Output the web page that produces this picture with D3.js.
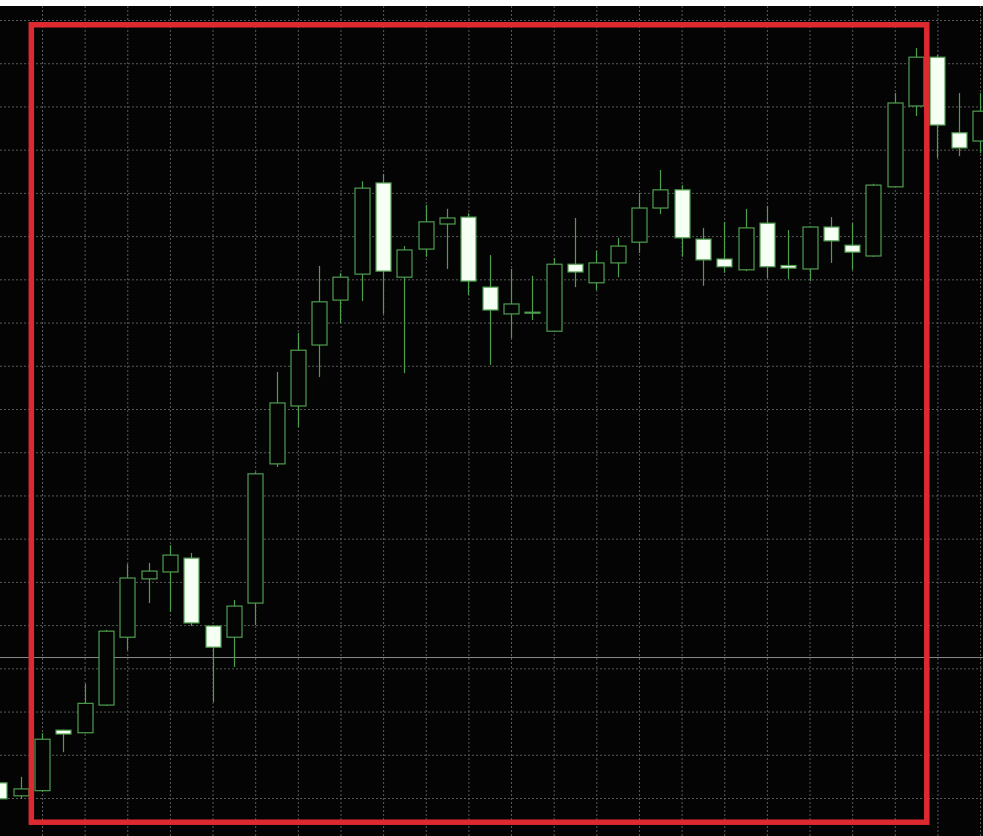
<!DOCTYPE html>
<html>
<head>
<meta charset="utf-8">
<script src="https://cdn.jsdelivr.net/npm/d3@7"></script>
<style>
  html, body { margin: 0; padding: 0; background: #ffffff; }
  svg { display: block; }
</style>
</head>
<body>
<svg id="chart" width="983" height="836"></svg>
<script>
// ---- data ----
const openVals  = [3.5, 0.5, 1.7, 15.7, 15.1, 21.5, 37.2, 50.7, 52.3, 55.5, 39.8, 37.2, 45.1, 77.3, 90.7, 104.8, 115.2, 121.2, 142.3, 120.5, 127.0, 132.8, 134.4, 118.2, 112.0, 112.4, 108.0, 123.5, 119.2, 123.8, 128.6, 136.5, 140.7, 129.3, 124.7, 122.2, 133.0, 123.2, 122.4, 132.1, 127.9, 125.4, 141.4, 160.1, 171.4, 153.9, 152.0];
const highVals  = [3.6, 4.9, 15.0, 15.8, 26.4, 38.9, 54.1, 54.4, 58.5, 56.7, 40.0, 45.8, 75.4, 98.6, 107.6, 123.1, 121.5, 142.7, 144.4, 127.7, 137.2, 136.3, 135.3, 125.6, 122.4, 120.8, 124.9, 134.2, 126.6, 129.6, 140.0, 145.3, 141.8, 131.9, 133.3, 136.3, 137.0, 131.4, 132.3, 134.4, 133.0, 142.1, 163.1, 173.5, 171.9, 163.1, 163.1];
const lowVals   = [-0.3, -0.2, 1.4, 10.6, 15.0, 21.3, 34.2, 45.1, 43.0, 39.8, 22.2, 30.3, 40.0, 76.6, 85.8, 97.4, 109.9, 115.0, 112.0, 98.3, 125.2, 122.4, 116.4, 100.2, 106.4, 110.6, 107.8, 118.2, 117.5, 120.5, 126.1, 135.1, 125.2, 118.5, 121.5, 121.9, 120.3, 120.1, 119.6, 123.8, 122.2, 125.2, 141.4, 157.8, 148.1, 148.5, 149.2];
const closeVals = [-0.2, 2.1, 13.6, 14.8, 21.9, 38.6, 50.9, 52.5, 56.2, 40.5, 34.9, 44.4, 75.0, 91.4, 103.6, 114.8, 120.5, 141.1, 121.9, 126.8, 133.3, 134.2, 119.6, 112.9, 114.3, 112.4, 123.5, 121.7, 123.8, 127.7, 136.5, 140.7, 129.6, 124.5, 122.9, 131.9, 122.9, 122.6, 132.1, 128.9, 126.3, 141.8, 160.8, 171.4, 155.7, 150.4, 158.9];
const firstBar = -2;            // first (partly hidden) bar index
const gridValues = [-10, 0, 10, 20, 30, 40, 50, 60, 70, 80, 90, 100, 110, 120, 130, 140, 150, 160, 170, 180];
const priceLine = 32.5;         // horizontal gray level line
const boxFrom = -0.5, boxTo = 41.5;   // red frame, bar index span
const boxLow = -5.6, boxHigh = 178.9; // red frame, value span

const W = 983, H = 836;
const svg = d3.select("#chart");

const candles = openVals.map((o, k) => ({
  i: firstBar + k, o, h: highVals[k], l: lowVals[k], c: closeVals[k]
}));

const x = d3.scaleLinear().domain([-2, 44]).range([-0.64, 980.08]);
const y = d3.scaleLinear().domain([0, 180]).range([798, 20]);

// background
svg.append("rect").attr("x", 0).attr("y", 0).attr("width", W).attr("height", H).attr("fill", "#ffffff");
svg.append("rect").attr("x", 0).attr("y", 6).attr("width", W).attr("height", H - 6).attr("fill", "#040404");

const plot = svg.append("g");

// grid
const gridX = d3.range(0, 46, 2);
const gx = plot.append("g")
  .attr("transform", `translate(0,${H})`)
  .call(d3.axisBottom(x).tickValues(gridX).tickSize(-(H - 6)).tickFormat(""));
const gy = plot.append("g")
  .call(d3.axisLeft(y).tickValues(gridValues).tickSize(-W).tickFormat(""));
[gx, gy].forEach(g => {
  g.select(".domain").remove();
  g.selectAll(".tick line")
    .attr("stroke", "#5a5a5a")
    .attr("stroke-width", 1)
    .attr("stroke-dasharray", "2,2");
});

// price line
plot.append("line")
  .attr("x1", 0).attr("x2", W)
  .attr("y1", y(priceLine)).attr("y2", y(priceLine))
  .attr("stroke", "#8a8a8a").attr("stroke-width", 1);

// candles
const green = "#4f9e4f";
const bw = 15;
const cg = plot.append("g").selectAll("g").data(candles).join("g");
cg.append("line")
  .attr("x1", d => Math.round(x(d.i)) + 0.5).attr("x2", d => Math.round(x(d.i)) + 0.5)
  .attr("y1", d => y(d.h)).attr("y2", d => y(d.l))
  .attr("stroke", green).attr("stroke-width", 1.2);
cg.append("rect")
  .attr("x", d => Math.round(x(d.i)) + 0.5 - bw / 2)
  .attr("width", bw)
  .attr("y", d => y(Math.max(d.o, d.c)))
  .attr("height", d => Math.max(1, Math.abs(y(d.o) - y(d.c))))
  .attr("fill", d => d.c >= d.o ? "#040404" : "#f6fff4")
  .attr("stroke", green)
  .attr("stroke-width", 1.2);

// red frame
svg.append("rect")
  .attr("x", x(boxFrom)).attr("y", y(boxHigh))
  .attr("width", x(boxTo) - x(boxFrom))
  .attr("height", y(boxLow) - y(boxHigh))
  .attr("fill", "none")
  .attr("stroke", "#dd2a30")
  .attr("stroke-width", 5.5);
</script>
</body>
</html>
